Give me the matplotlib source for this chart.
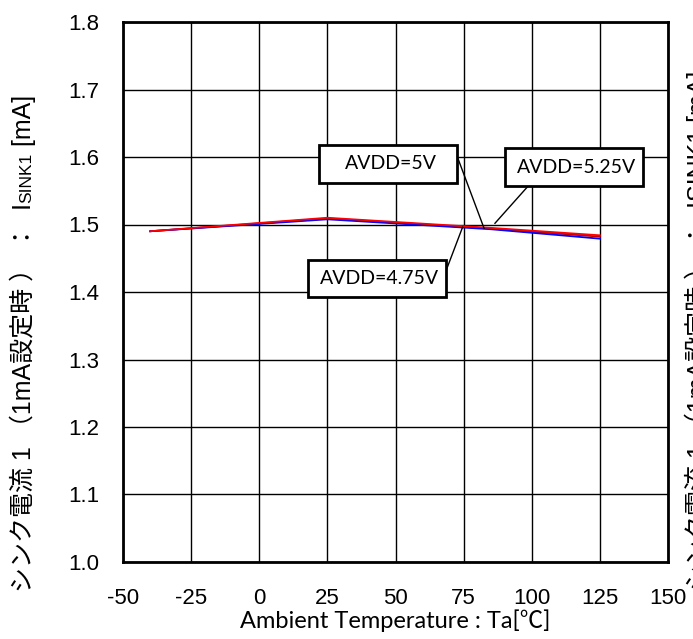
import matplotlib
matplotlib.use("Agg")
import matplotlib.pyplot as plt
from matplotlib.patches import Rectangle
import numpy as np

# data
temps = [-40, 25, 85, 125]
isink_475 = [1.490, 1.5077, 1.493, 1.479]
isink_500 = [1.490, 1.509, 1.494, 1.482]
isink_525 = [1.490, 1.510, 1.495, 1.484]

x_ticks = [-50, -25, 0, 25, 50, 75, 100, 125, 150]
y_ticks = [1.0, 1.1, 1.2, 1.3, 1.4, 1.5, 1.6, 1.7, 1.8]

ylabel_parts = ["シンク電流 1 （1mA設定時 ） ：  I", "SINK1", " [mA]"]
xlabel = "Ambient Temperature : Ta[℃]"

jp = ["Liberation Sans", "Noto Sans CJK JP", "DejaVu Sans"]
cal = ["Lato", "Noto Sans CJK JP", "DejaVu Sans"]

fig = plt.figure(figsize=(6.93, 6.39), dpi=100)
ax = fig.add_axes([123 / 693, 77 / 639, 545 / 693, 540 / 639])

ax.plot(temps, isink_500, color="#c00000", lw=1.3, zorder=3)
ax.plot(temps, isink_475, color="blue", lw=1.3, zorder=3)
ax.plot(temps, isink_525, color="red", lw=1.3, zorder=4)

ax.set_xlim(-50, 150)
ax.set_ylim(1.0, 1.8)
ax.set_xticks(x_ticks)
ax.set_yticks(y_ticks)
ax.set_xticklabels([str(v) for v in x_ticks], family="Liberation Sans", fontsize=16)
ax.set_yticklabels(["%.1f" % v for v in y_ticks], family="Liberation Sans", fontsize=16)
ax.tick_params(axis="y", length=0, pad=17)
ax.tick_params(axis="x", length=0, pad=19)
ax.grid(True, color="black", lw=1.0)
for s in ax.spines.values():
    s.set_linewidth(2)
    s.set_zorder(5)

ax.set_xlabel(xlabel, family=cal, fontsize=17, labelpad=0)

# callouts: label, box centre, line start, line end (data units)
callouts = [
    ("AVDD=5V", (47.2, 1.590), (72.9, 1.598), (82.5, 1.4944)),
    ("AVDD=5.25V", (115.6, 1.585), (98.8, 1.5575), (86.5, 1.5018)),
    ("AVDD=4.75V", (43.2, 1.420), (68.4, 1.430), (74.6, 1.4959)),
]
bw, bh = 50.6, 0.056
for label, (cx, cy), p0, p1 in callouts:
    ax.plot([p0[0], p1[0]], [p0[1], p1[1]], color="black", lw=1.0, zorder=6)
    ax.add_patch(Rectangle((cx - bw / 2, cy - bh / 2), bw, bh, facecolor="white",
                           edgecolor="black", lw=2, zorder=7))
    ax.text(cx + 1, cy, label, ha="center", va="center", family=cal,
            fontsize=14, zorder=8)

# y label built from pieces so SINK1 can be smaller
fig.canvas.draw()
r = fig.canvas.get_renderer()
x0, y0 = 31 / 693, (639 - 592) / 639
sizes = [18, 12.5, 18]
for part, fs in zip(ylabel_parts, sizes):
    t = fig.text(x0, y0, part, rotation=90, rotation_mode="anchor", ha="left",
                 va="baseline", family=jp, fontsize=fs)
    bb = t.get_window_extent(r)
    y0 += bb.height / fig.bbox.height

# cut-off copy of the label at the right edge
fig.text(698 / 693, (639 - 330) / 639, "".join(ylabel_parts), rotation=90,
         ha="center", va="center", family=jp, fontsize=18)

fig.savefig("out.png", dpi=100)
